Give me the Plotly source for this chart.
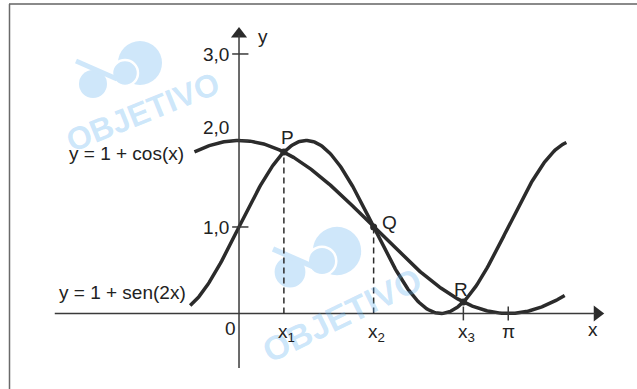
import numpy as np
import plotly.graph_objects as go

# domains of the two curves (radians)
cos_x_span = [-0.52, 3.80]
sen_x_span = [-0.57, 3.82]

# intersection points P, Q, R: 1 + cos(x) = 1 + sen(2x)
point_names = ["P", "Q", "R"]
point_x = [np.pi / 6, np.pi / 2, 5 * np.pi / 6]

y_tick_vals = [1, 2, 3]
y_tick_text = ["1,0", "2,0", "3,0"]
x_tick_vals = point_x + [np.pi]
x_tick_text = ["x<sub>1</sub>", "x<sub>2</sub>", "x<sub>3</sub>", "π"]

W, H = 637, 389
FONT = "Arial, Liberation Sans, Helvetica, sans-serif"
INK = "#2b2b2b"
WM = "rgba(100,180,240,0.32)"
WM_SOLID = "#cfe7fa"


def px(x):
    return x / W


def py(y):
    return 1 - y / H


def circle(cx, cy, r, fill, line=None):
    return dict(type="circle", xref="paper", yref="paper", layer="below",
                x0=px(cx - r), x1=px(cx + r), y0=py(cy + r), y1=py(cy - r),
                fillcolor=fill, line=line or dict(width=0))


xc = np.linspace(cos_x_span[0], cos_x_span[1], 300)
xs = np.linspace(sen_x_span[0], sen_x_span[1], 300)
py_pts = [1 + np.cos(v) for v in point_x]

fig = go.Figure()

# watermark logos (under everything)
shapes = []
for dx, dy, k in [(0, 0, 1.0), (197, 188, 1.1)]:
    shapes.append(circle(140 + dx, 63 + dy, 22 * k, WM_SOLID))
    shapes.append(circle(125 + dx, 73 + dy, 13 * k, WM_SOLID, dict(color="white", width=2.5)))
    shapes.append(circle(93 + dx, 84 + dy, 14 * k, WM_SOLID))
    shapes.append(dict(type="line", xref="paper", yref="paper", layer="below",
                       x0=px(76 + dx), y0=py(61 + dy), x1=px(117 + dx), y1=py(79 + dy),
                       line=dict(color=WM_SOLID, width=5 * k)))

# frame
shapes.append(dict(type="line", xref="paper", yref="paper", x0=px(9), x1=1, y0=py(4), y1=py(4),
                   line=dict(color="#8a8a8a", width=2)))
shapes.append(dict(type="line", xref="paper", yref="paper", x0=px(9.5), x1=px(9.5), y0=py(4), y1=0,
                   line=dict(color="#6a6a6a", width=1.5)))

# axes
shapes.append(dict(type="line", x0=-2.15, x1=4.16, y0=0, y1=0, line=dict(color="#3a3a3a", width=1.5)))
shapes.append(dict(type="line", x0=0, x1=0, y0=-0.63, y1=3.22, line=dict(color="#3a3a3a", width=1.5)))

# ticks
for v in y_tick_vals:
    shapes.append(dict(type="line", x0=-0.08, x1=0.11, y0=v, y1=v, line=dict(color="#3a3a3a", width=1.5)))
for v in x_tick_vals[2:]:
    shapes.append(dict(type="line", x0=v, x1=v, y0=-0.08, y1=0.08, line=dict(color="#3a3a3a", width=1.5)))

# dashed guides for P and Q
for v, yv in zip(point_x[:2], py_pts[:2]):
    shapes.append(dict(type="line", x0=v, x1=v, y0=0, y1=yv, line=dict(color=INK, width=1.5, dash="6px,4px")))

fig.add_trace(go.Scatter(x=xc, y=1 + np.cos(xc), mode="lines",
                         line=dict(color=INK, width=3.5), hoverinfo="skip"))
fig.add_trace(go.Scatter(x=xs, y=1 + np.sin(2 * xs), mode="lines",
                         line=dict(color=INK, width=3.5), hoverinfo="skip"))
fig.add_trace(go.Scatter(x=point_x, y=py_pts, mode="markers",
                         marker=dict(color=INK, size=7), hoverinfo="skip"))
# arrow heads
fig.add_trace(go.Scatter(x=[0], y=[3.23], mode="markers",
                         marker=dict(symbol="triangle-up", color=INK, size=14), hoverinfo="skip"))
fig.add_trace(go.Scatter(x=[4.18], y=[0], mode="markers",
                         marker=dict(symbol="triangle-right", color=INK, size=14), hoverinfo="skip"))

ann = []


def label(text, x, y, xanchor="center", yanchor="middle", xshift=0, yshift=0, size=19):
    ann.append(dict(text=text, x=x, y=y, showarrow=False, xanchor=xanchor, yanchor=yanchor,
                    xshift=xshift, yshift=yshift, font=dict(family=FONT, size=size, color="#222")))


# watermark text
for cx, cy, s, a in [(143, 112, 32, -22), (342, 315, 34, -26)]:
    ann.append(dict(text="<b>OBJETIVO</b>", xref="paper", yref="paper", x=px(cx), y=py(cy),
                    showarrow=False, textangle=a, xanchor="center", yanchor="middle",
                    font=dict(family=FONT, size=s, color=WM)))

for v, t in zip(y_tick_vals, y_tick_text):
    label(t, 0, v, xanchor="right", xshift=-8, yshift=13 if v == 2 else -1)
label("0", 0, 0, xanchor="right", yanchor="top", xshift=-1, yshift=-3)
for v, t in zip(x_tick_vals, x_tick_text):
    label(t, v, 0, yanchor="top", xshift=3 if t != "π" else 0, yshift=-6)
for n, v, yv in zip(point_names, point_x, py_pts):
    shift = {"P": (4, 15), "Q": (16, 4), "R": (-2, 12)}[n]
    label(n, v, yv, xshift=shift[0], yshift=shift[1])
label("y", 0, 3.22, xanchor="left", xshift=17, yshift=-2)
label("x", 4.13, -0.19)
label("y = 1 + cos(x)", cos_x_span[0], 1 + np.cos(cos_x_span[0]), xanchor="right", xshift=-8, yshift=-2)
label("y = 1 + sen(2x)", sen_x_span[0], 1 + np.sin(2 * sen_x_span[0]), xanchor="right", xshift=-2, yshift=13)

fig.update_layout(
    width=W, height=H, margin=dict(l=0, r=0, t=0, b=0),
    paper_bgcolor="white", plot_bgcolor="white", showlegend=False,
    xaxis=dict(range=[-2.789, 4.644], visible=False, fixedrange=True),
    yaxis=dict(range=[-0.873, 3.624], visible=False, fixedrange=True),
    shapes=shapes, annotations=ann,
)

fig.write_html("out.html", config={"displayModeBar": False},
               post_script="document.body.style.margin='0';document.body.style.overflow='hidden';")
